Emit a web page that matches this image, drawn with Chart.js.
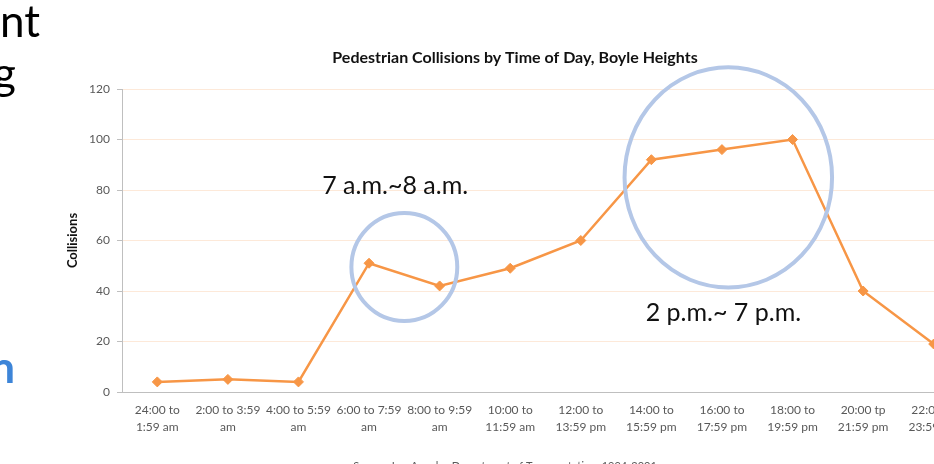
<!DOCTYPE html>
<html>
<head>
<meta charset="utf-8">
<script src="https://cdn.jsdelivr.net/npm/chart.js@4.4.1/dist/chart.umd.min.js"></script>
<style>
html, body { margin:0; padding:0; overflow:hidden; background:#fff; width:934px; height:464px; }
#wrap { position:absolute; left:0; top:0; width:1030px; height:464px; }
</style>
</head>
<body>
<div id="wrap"><canvas id="c" width="1030" height="464"></canvas></div>
<script>
// ---- data ----
const categories = [
  ["24:00 to", "1:59 am"], ["2:00 to 3:59", "am"], ["4:00 to 5:59", "am"],
  ["6:00 to 7:59", "am"], ["8:00 to 9:59", "am"], ["10:00 to", "11:59 am"],
  ["12:00 to", "13:59 pm"], ["14:00 to", "15:59 pm"], ["16:00 to", "17:59 pm"],
  ["18:00 to", "19:59 pm"], ["20:00 tp", "21:59 pm"], ["22:00 to", "23:59 pm"]
];
const collisions = [4, 5, 4, 51, 42, 49, 60, 92, 96, 100, 40, 19];
const yTicks = [0, 20, 40, 60, 80, 100, 120];
const chartTitle = "Pedestrian Collisions by Time of Day, Boyle Heights";
const yTitle = "Collisions";
const sourceNote = "Source: Los Angeles Department of Transportation, 1994-2001";
// annotation circles (in category-index / value units)
const circleCenters = [[3.5, 49.5], [8.09, 85]];
const circleRadii = [[0.75, 21.4], [1.47, 43.6]];
const noteLabels = ["7 a.m.~8 a.m.", "2 p.m.~ 7 p.m."];
const notePositions = [[3.37, 81.8], [8.02, 31.3]];
// slide text fragments
const slideText = ["nt", "g", "n"];

const FONT = "Lato, 'Liberation Sans', sans-serif";

const overlay = {
  id: 'overlay',
  afterDatasetsDraw(chart) {
    const ctx = chart.ctx, xs = chart.scales.x, ys = chart.scales.y;
    ctx.save();
    ctx.strokeStyle = '#b4c7e7';
    ctx.lineWidth = 4;
    circleCenters.forEach((c, i) => {
      const cx = xs.getPixelForValue(c[0]);
      const cy = ys.getPixelForValue(c[1]);
      const rx = Math.abs(xs.getPixelForValue(c[0] + circleRadii[i][0]) - cx);
      const ry = Math.abs(ys.getPixelForValue(c[1] + circleRadii[i][1]) - cy);
      ctx.beginPath();
      ctx.ellipse(cx, cy, rx, ry, 0, 0, Math.PI * 2);
      ctx.stroke();
    });
    ctx.fillStyle = '#111';
    ctx.font = "25px " + FONT;
    ctx.textAlign = 'center';
    ctx.textBaseline = 'middle';
    noteLabels.forEach((t, i) => {
      ctx.fillText(t, xs.getPixelForValue(notePositions[i][0]), ys.getPixelForValue(notePositions[i][1]));
    });
    ctx.restore();
  },
  afterDraw(chart) {
    const ctx = chart.ctx;
    ctx.save();
    ctx.fillStyle = '#595959';
    ctx.font = "11px " + FONT;
    ctx.textAlign = 'center';
    ctx.textBaseline = 'top';
    ctx.fillText(sourceNote, 505, 461);
    ctx.fillStyle = '#000';
    ctx.font = "44px " + FONT;
    ctx.textAlign = 'right';
    ctx.textBaseline = 'alphabetic';
    ctx.fillText(slideText[0], 40, 37);
    ctx.fillText(slideText[1], 16, 89);
    ctx.fillStyle = '#3d85d8';
    ctx.font = "bold 44px " + FONT;
    ctx.fillText(slideText[2], 15, 383);
    ctx.restore();
  }
};

new Chart(document.getElementById('c'), {
  type: 'line',
  data: {
    labels: categories,
    datasets: [{
      data: collisions,
      borderColor: '#f79646',
      backgroundColor: '#f79646',
      borderWidth: 2.5,
      pointStyle: 'rectRot',
      pointRadius: 5,
      pointBorderWidth: 1,
      pointBackgroundColor: '#f79646',
      pointBorderColor: '#f79646',
      tension: 0,
      clip: false
    }]
  },
  options: {
    responsive: false,
    animation: false,
    layout: { padding: { left: 61, right: 61, top: 0, bottom: 0 } },
    plugins: {
      legend: { display: false },
      tooltip: { enabled: false },
      title: {
        display: true,
        text: chartTitle,
        color: '#111',
        font: { family: FONT, size: 16, weight: 'bold', lineHeight: 1.2 },
        padding: { top: 48, bottom: 21.8 }
      }
    },
    scales: {
      x: {
        offset: true,
        grid: { display: false, drawTicks: false },
        border: { display: true, color: '#bfbfbf', width: 1 },
        ticks: {
          color: '#595959', padding: 10, maxRotation: 0, autoSkip: false,
          font: { family: FONT, size: 12, lineHeight: 1.4 }
        },
        afterFit(s) { s.height = 72; }
      },
      y: {
        min: 0, max: 120,
        afterBuildTicks(s) { s.ticks = yTicks.map(v => ({ value: v })); },
        grid: { color: '#fde9d9', lineWidth: 1, drawTicks: true, tickLength: 5, tickColor: '#bfbfbf' },
        border: { display: true, color: '#bfbfbf', width: 1 },
        ticks: { color: '#595959', padding: 7, font: { family: FONT, size: 12 } },
        title: {
          display: true, text: yTitle, color: '#111',
          font: { family: FONT, size: 13, weight: 'bold', lineHeight: 1.2 },
          padding: { top: 4, bottom: 0 }
        },
        afterFit(s) { s.width = 61; }
      }
    }
  },
  plugins: [overlay]
});
</script>
</body>
</html>
